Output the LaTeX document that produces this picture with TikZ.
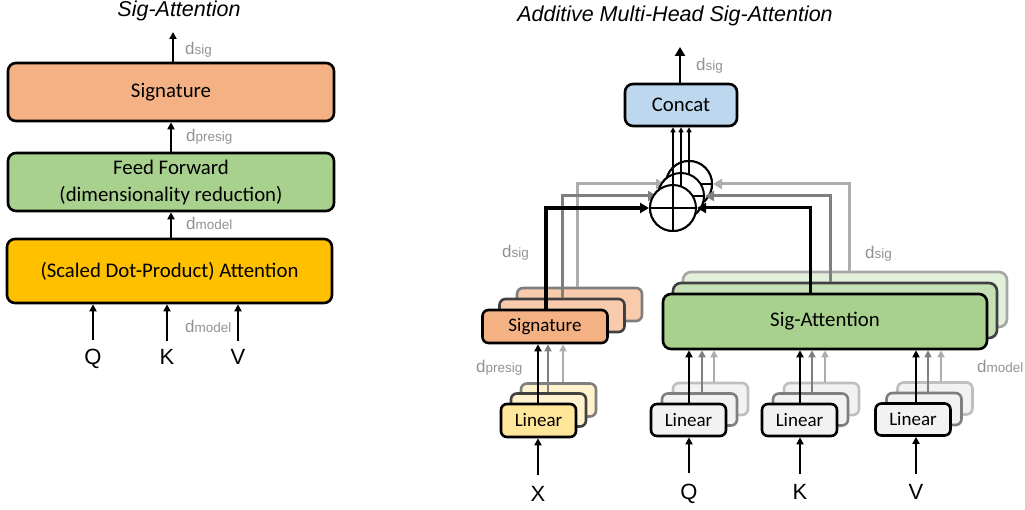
\documentclass[tikz,border=0pt]{standalone}
\usepackage{fontspec}
\setmainfont{Liberation Sans}
\newfontfamily\carlito{Carlito}
\usetikzlibrary{arrows.meta}

\definecolor{salmonA}{HTML}{F4B183}
\definecolor{salmonB}{HTML}{F8CBAD}
\definecolor{greenA}{HTML}{A9D18E}
\definecolor{greenB}{HTML}{C5E0B4}
\definecolor{greenC}{HTML}{E2F0D9}
\definecolor{goldA}{HTML}{FFC000}
\definecolor{yellowA}{HTML}{FFE699}
\definecolor{yellowB}{HTML}{FFF2CC}
\definecolor{greyA}{HTML}{F2F2F2}
\definecolor{blueA}{HTML}{BDD7EE}
\definecolor{labgrey}{HTML}{929292}
\definecolor{edgeB}{HTML}{404040}
\definecolor{edgeC}{HTML}{7F7F7F}
\definecolor{edgeD}{HTML}{A6A6A6}
\definecolor{edgeE}{HTML}{BFBFBF}
\definecolor{wireB}{HTML}{7F7F7F}
\definecolor{wireC}{HTML}{ADADAD}

% dimension label: a large "d" followed by a smaller index
\newcommand\dimlab[1]{{\fontsize{17}{17}\selectfont d}{\fontsize{13.5}{14}\selectfont #1}}

\begin{document}
\begin{tikzpicture}[x=1pt,y=-1pt,
  box/.style={draw, line width=2.6pt, rounded corners=8pt, inner sep=0pt, align=center,
              font=\carlito\fontsize{20.8}{27}\selectfont},
  smallbox/.style={box, rounded corners=6pt, font=\carlito\fontsize{19}{22}\selectfont},
  arr/.style={line width=1.8pt, -{Triangle[length=7pt,width=7pt]}},
  outarr/.style={line width=2.4pt, -{Triangle[length=9pt,width=10pt]}},
  sumarr/.style={line width=1.8pt, -{Triangle[length=5pt,width=5pt]}},
  feedK/.style={line width=4pt, -{Triangle[length=9pt,width=10pt]}},
  feedA/.style={line width=3pt, -{Triangle[length=9pt,width=10pt]}},
  feedB/.style={feedA, draw=wireB},
  feedC/.style={feedA, draw=wireC},
  tapA/.style={line width=2.2pt, -{Triangle[length=7pt,width=7pt]}},
  tapB/.style={tapA, draw=wireB},
  tapC/.style={tapA, draw=wireC},
  lab/.style={anchor=base west, inner sep=0pt, text=labgrey},
  io/.style={anchor=base, inner sep=0pt, font=\fontsize{22}{22}\selectfont},
  ttl/.style={anchor=base, inner sep=0pt, font=\itshape\fontsize{21.5}{22}\selectfont},
  sumnode/.style={circle, draw, fill=white, line width=2pt, minimum size=46pt, inner sep=0pt},
]
\useasboundingbox (0,0) rectangle (1025,510);

% ---------------- single Sig-Attention block ----------------
\node[ttl] (titleL) at (179,17) {Sig-Attention};

\node[box, fill=salmonA, minimum width=326pt, minimum height=58pt] (sigL) at (171,92) {Signature};
\node[box, fill=greenA, minimum width=326pt, minimum height=58pt] (ffL) at (171,182)
  {Feed Forward\\(dimensionality reduction)};
\node[box, fill=goldA, minimum width=325pt, minimum height=64pt] (attL) at (169.5,271)
  {(Scaled Dot-Product) Attention};

\coordinate (outL) at (173,32);
\draw[arr] (sigL.north -| outL) -- (outL);
\draw[arr] (ffL.north) -- (sigL.south);
\draw[arr] (attL.north -| ffL.south) -- (ffL.south);

\node[lab] (dsigL) at (185,55) {\dimlab{sig}};
\node[lab] (dpresigL) at (186,142) {\dimlab{presig}};
\node[lab] (dmodelL) at (186,230) {\dimlab{model}};
\node[lab] (dmodelL2) at (185,333) {\dimlab{model}};

\node[io] (qL) at (93,364) {Q};
\node[io] (kL) at (167,364) {K};
\node[io] (vL) at (238,364) {V};
\foreach \n in {qL,kL,vL}
  \draw[arr] ([yshift=8pt]\n.north) -- (\n.north |- attL.south);

% ---------------- additive multi-head block ----------------
\node[ttl] (titleR) at (675,22) {Additive Multi-Head Sig-Attention};

\node[box, fill=blueA, minimum width=112pt, minimum height=42pt] (concat) at (681,105) {Concat};
\coordinate (outR) at (680,47);
\draw[outarr] (concat.north -| outR) -- (outR);
\node[lab] (dsigTop) at (696,71) {\dimlab{sig}};

% stacked heads: back layers first
\node[smallbox, fill=salmonB, draw=edgeC, minimum width=125pt, minimum height=33pt] (sig3) at (579.5,304.5) {};
\node[smallbox, fill=salmonB, draw=edgeB, minimum width=125pt, minimum height=33pt] (sig2) at (562,315.5) {};
\node[smallbox, fill=salmonA, minimum width=125pt, minimum height=33pt] (sig1) at (545,326.5) {Signature};

\node[box, fill=greenC, draw=edgeD, minimum width=324pt, minimum height=55pt] (sa3) at (845,299.5) {};
\node[box, fill=greenB, draw=edgeB, minimum width=324pt, minimum height=55pt] (sa2) at (835,310.5) {};
\node[box, fill=greenA, minimum width=324pt, minimum height=55pt] (sa1) at (825,321.5) {Sig-Attention};

\node[smallbox, fill=yellowB, draw=edgeC, minimum width=75pt, minimum height=33pt] (ly3) at (558.5,400) {};
\node[smallbox, fill=yellowB, draw=edgeB, minimum width=75pt, minimum height=33pt] (ly2) at (548.5,410) {};
\node[smallbox, fill=yellowA, minimum width=75pt, minimum height=33pt] (ly1) at (538.5,420.5) {Linear};

\foreach \nm/\x/\y in {lq/688.5/420, lk/799.5/420, lv/913/419.5}{
  \node[smallbox, fill=greyA, draw=edgeE, minimum width=75pt, minimum height=32pt] (\nm3) at (\x+22,\y-21) {};
  \node[smallbox, fill=greyA, draw=edgeC, minimum width=75pt, minimum height=32pt] (\nm2) at (\x+11,\y-10.5) {};
  \node[smallbox, fill=greyA, minimum width=75pt, minimum height=32pt] (\nm1) at (\x,\y) {Linear};
}

% summation nodes, back to front, each with its incoming wires
\coordinate (tS1) at (546,0);  \coordinate (tS2) at (562,0);  \coordinate (tS3) at (577,0);
\coordinate (tA1) at (810,0);  \coordinate (tA2) at (830,0);  \coordinate (tA3) at (849,0);

\node[sumnode] (c3) at (689,184) {};
\node[sumnode] (c2) at (681,196) {};
\node[sumnode] (c1) at (673,208) {};

\draw[feedC] (sig3.north -| tS3) |- (c3.west);
\draw[feedC] (sa3.north -| tA3) |- (c3.east);
\node[sumnode] at (c3) {};
\draw[sumarr] (c3.south) -- (c3.south |- concat.south);
\draw[line width=2pt] (c3.west) -- (c3.east);

\draw[feedB] (sig2.north -| tS2) |- (c2.west);
\draw[feedB] (sa2.north -| tA2) |- (c2.east);
\node[sumnode] at (c2) {};
\draw[sumarr] (c2.south) -- (c2.south |- concat.south);
\draw[line width=2pt] (c2.west) -- (c2.east);

\draw[feedK] (sig1.north -| tS1) |- (c1.west);
\draw[feedA] (sa1.north -| tA1) |- (c1.east);
\node[sumnode] at (c1) {};
\draw[sumarr] (c1.south) -- (c1.south |- concat.south);
\draw[line width=2pt] (c1.west) -- (c1.east);

\node[lab] (dsigS) at (502,258) {\dimlab{sig}};
\node[lab] (dsigA) at (865,259) {\dimlab{sig}};

% linear projections into the signature
\coordinate (tY1) at (538,0); \coordinate (tY2) at (548,0); \coordinate (tY3) at (563,0);
\draw[tapC] (ly3.north -| tY3) -- (sig1.south -| tY3);
\draw[tapB] (ly2.north -| tY2) -- (sig1.south -| tY2);
\draw[tapA] (ly1.north -| tY1) -- (sig1.south -| tY1);
\node[lab] (dpresigR) at (476,373) {\dimlab{presig}};

% linear projections into the sig-attention
\foreach \nm/\a/\b/\c in {lq/689/702/714, lk/800/812/825, lv/916/928/941}{
  \coordinate (\nm T1) at (\a,0); \coordinate (\nm T2) at (\b,0); \coordinate (\nm T3) at (\c,0);
  \draw[tapC] (\nm3.north -| \nm T3) -- (sa1.south -| \nm T3);
  \draw[tapB] (\nm2.north -| \nm T2) -- (sa1.south -| \nm T2);
  \draw[tapA] (\nm1.north -| \nm T1) -- (sa1.south -| \nm T1);
}
\node[lab] (dmodelR) at (977,372) {\dimlab{model}};

% inputs
\node[io] (xR) at (538,501) {X};
\node[io] (qR) at (689,499) {Q};
\node[io] (kR) at (800,499) {K};
\node[io] (vR) at (916,499) {V};
\draw[arr] ([yshift=11pt]xR.north) -- (xR.north |- ly1.south);
\draw[arr] ([yshift=10pt]qR.north) -- (qR.north |- lq1.south);
\draw[arr] ([yshift=10pt]kR.north) -- (kR.north |- lk1.south);
\draw[arr] ([yshift=10pt]vR.north) -- (vR.north |- lv1.south);
\end{tikzpicture}
\end{document}
